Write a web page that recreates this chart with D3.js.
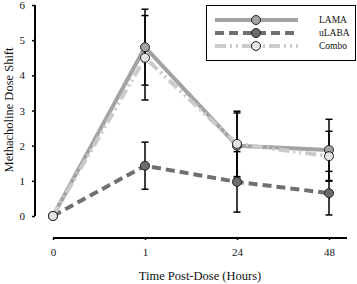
<!DOCTYPE html>
<html>
<head>
<meta charset="utf-8">
<style>
  body { margin: 0; background: #fff; }
  svg text { font-family: "Liberation Serif", "Times New Roman", Times, serif; fill: #111; font-weight: normal; }
</style>
</head>
<body>
<svg id="chart" width="357" height="284"></svg>
<script src="https://d3js.org/d3.v7.min.js"></script>
<script>
  // data
  const times = ['0', '1', '24', '48']
  const lamaMean = [0, 4.8, 2.0, 1.88]
  const lamaErr = [0, 1.08, 0.93, 0.87]
  const ulabaMean = [0, 1.43, 0.97, 0.65]
  const ulabaErr = [0, 0.67, 0.86, 0.62]
  const comboMean = [0, 4.5, 2.05, 1.7]
  const comboErr = [0, 1.2, 0.93, 0.71]
  const yTicks = [0, 1, 2, 3, 4, 5, 6]

  const series = [
    {name: 'LAMA', mean: lamaMean, err: lamaErr, color: '#a3a3a3', dash: null, fill: '#a3a3a3'},
    {name: 'uLABA', mean: ulabaMean, err: ulabaErr, color: '#707070', dash: '9,5', fill: '#6c6c6c'},
    {name: 'Combo', mean: comboMean, err: comboErr, color: '#cbcbcb', dash: '11,4,2,4,2,4', fill: '#e4e4e4'}
  ]

  const svg = d3.select('#chart')

  const x = d3.scalePoint()
              .domain(times)
              .range([53, 329])
  const y = d3.scaleLinear()
              .domain([0, 6])
              .range([216, 5])

  // y axis
  const yAxis = svg.append('g')
                   .attr('transform', 'translate(35,0)')
                   .call(d3.axisLeft(y).tickValues(yTicks).tickFormat(d3.format('d')).tickSize(3).tickPadding(7))
  yAxis.attr('font-family', null)
  yAxis.select('.domain').attr('stroke', '#000').attr('stroke-width', 2)
       .attr('d', `M0,${y(0)}V${y(6)}`)
  yAxis.selectAll('.tick line').attr('stroke-width', 1.5)
  yAxis.selectAll('text').style('font-size', '11px')

  // x axis
  const xAxis = svg.append('g')
                   .attr('transform', 'translate(0,238)')
                   .call(d3.axisBottom(x).tickSize(2).tickPadding(8))
  xAxis.attr('font-family', null)
  xAxis.select('.domain').attr('stroke', '#000').attr('stroke-width', 2)
       .attr('d', 'M53,0H347')
  xAxis.selectAll('.tick line').attr('stroke-width', 1.5)
  xAxis.selectAll('text').style('font-size', '11px')

  // titles
  svg.append('text')
     .attr('x', 200).attr('y', 280)
     .attr('text-anchor', 'middle')
     .style('font-size', '12.5px')
     .text('Time Post-Dose (Hours)')
  svg.append('text')
     .attr('transform', 'translate(13,110) rotate(-90)')
     .attr('text-anchor', 'middle')
     .style('font-size', '12.5px')
     .text('Methacholine Dose Shift')

  // lines
  const line = d3.line()
                 .x((d, i) => x(times[i]))
                 .y(d => y(d))
  series.forEach(s => {
    svg.append('path')
       .attr('d', line(s.mean))
       .attr('fill', 'none')
       .attr('stroke', s.color)
       .attr('stroke-width', 4)
       .attr('stroke-dasharray', s.dash)
  })

  // error bars
  series.forEach(s => {
    const g = svg.append('g').attr('stroke', '#000').attr('stroke-width', 1.5)
    s.mean.forEach((m, i) => {
      if (!s.err[i]) return
      const cx = x(times[i])
      const top = y(m + s.err[i]), bot = y(m - s.err[i])
      g.append('line').attr('x1', cx).attr('x2', cx).attr('y1', top).attr('y2', bot)
      g.append('line').attr('x1', cx - 3.5).attr('x2', cx + 3.5).attr('y1', top).attr('y2', top)
      g.append('line').attr('x1', cx - 3.5).attr('x2', cx + 3.5).attr('y1', bot).attr('y2', bot)
    })
  })

  // markers
  series.forEach(s => {
    svg.append('g')
       .selectAll('circle')
       .data(s.mean)
       .join('circle')
       .attr('cx', (d, i) => x(times[i]))
       .attr('cy', d => y(d))
       .attr('r', 4.5)
       .attr('fill', s.fill)
       .attr('stroke', '#222')
       .attr('stroke-width', 1)
  })

  // legend
  const legend = svg.append('g')
  legend.append('rect')
        .attr('x', 206.5).attr('y', 5.5)
        .attr('width', 149).attr('height', 55)
        .attr('fill', '#fff')
        .attr('stroke', '#000')
        .attr('stroke-width', 1)
  series.forEach((s, i) => {
    const ly = 20 + i * 13
    legend.append('line')
          .attr('x1', 215).attr('x2', 298)
          .attr('y1', ly).attr('y2', ly)
          .attr('stroke', s.color)
          .attr('stroke-width', 4)
          .attr('stroke-dasharray', s.dash)
    legend.append('circle')
          .attr('cx', 256).attr('cy', ly).attr('r', 4.5)
          .attr('fill', s.fill)
          .attr('stroke', '#222')
    legend.append('text')
          .attr('x', 319).attr('y', ly + 3)
          .style('font-size', '9.5px')
          .text(s.name)
  })
</script>
</body>
</html>
